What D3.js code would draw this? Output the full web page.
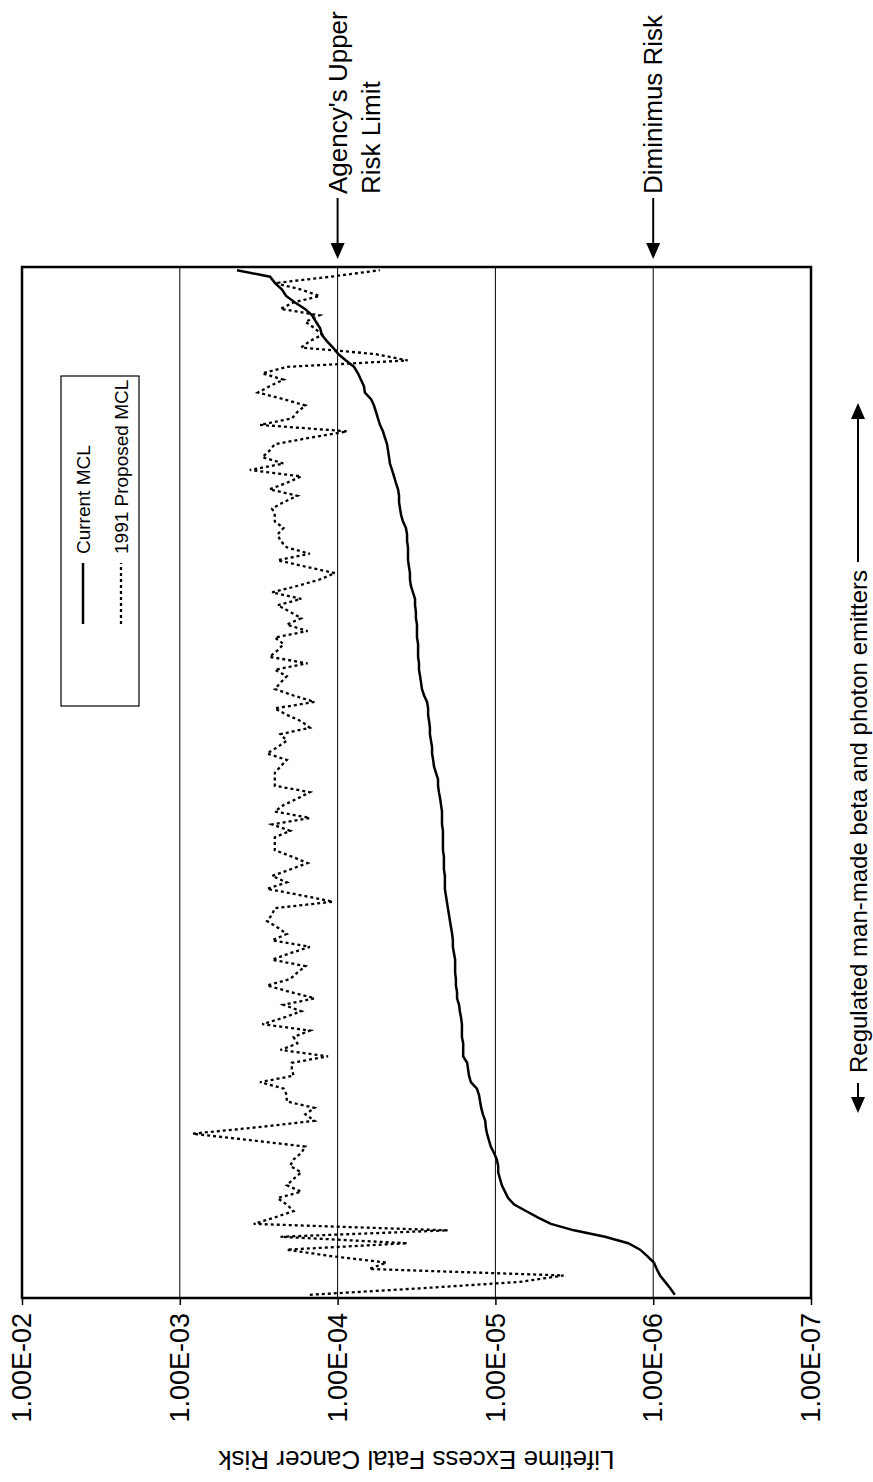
<!DOCTYPE html>
<html>
<head>
  <meta charset="utf-8" />
  <title>Lifetime Excess Fatal Cancer Risk</title>
  <style>
    body { margin:0; background:#fff; }
    text { font-family:"Liberation Sans", Arial, sans-serif; fill:#000; }
    .grid { stroke:#000; stroke-width:1; }
    .frame { fill:none; stroke:#000; stroke-width:2.5; }
    .current { fill:none; stroke:#000; stroke-width:2.5; }
    .proposed { fill:none; stroke:#000; stroke-width:2.3; stroke-dasharray:3,3; }
  </style>
</head>
<body>
<div id="chart"></div>
<script src="https://cdnjs.cloudflare.com/ajax/libs/d3/7.8.5/d3.min.js"></script>
<script>
// values, from the left end of the category axis (bottom of the page)
var currentMCL = [
  7.3e-7, 7.8e-7, 8.4e-7, 9.05e-7, 9.5e-7, 9.9e-7, 1.09e-6, 1.21e-6, 1.44e-6, 2.02e-6,
  3.18e-6, 4.45e-6, 5.4e-6, 6.4e-6, 7.6e-6, 8.3e-6, 8.7e-6, 9.1e-6, 9.35e-6, 9.6e-6,
  9.6e-6, 9.8e-6, 1.02e-5, 1.07e-5, 1.10e-5, 1.13e-5, 1.15e-5, 1.16e-5, 1.20e-5, 1.23e-5,
  1.25e-5, 1.27e-5, 1.31e-5, 1.43e-5, 1.47e-5, 1.49e-5, 1.51e-5, 1.60e-5, 1.60e-5, 1.60e-5,
  1.63e-5, 1.63e-5, 1.63e-5, 1.65e-5, 1.68e-5, 1.70e-5, 1.75e-5, 1.75e-5, 1.78e-5, 1.78e-5,
  1.80e-5, 1.80e-5, 1.80e-5, 1.83e-5, 1.86e-5, 1.86e-5, 1.88e-5, 1.91e-5, 1.94e-5, 1.97e-5,
  2.00e-5, 2.03e-5, 2.06e-5, 2.09e-5, 2.09e-5, 2.09e-5, 2.12e-5, 2.12e-5, 2.12e-5, 2.15e-5,
  2.15e-5, 2.15e-5, 2.15e-5, 2.18e-5, 2.18e-5, 2.18e-5, 2.21e-5, 2.24e-5, 2.28e-5, 2.31e-5,
  2.31e-5, 2.38e-5, 2.45e-5, 2.48e-5, 2.52e-5, 2.52e-5, 2.56e-5, 2.60e-5, 2.60e-5, 2.63e-5,
  2.67e-5, 2.67e-5, 2.71e-5, 2.83e-5, 2.92e-5, 2.96e-5, 3.00e-5, 3.05e-5, 3.05e-5, 3.09e-5,
  3.09e-5, 3.09e-5, 3.14e-5, 3.14e-5, 3.14e-5, 3.19e-5, 3.19e-5, 3.23e-5, 3.23e-5, 3.33e-5,
  3.43e-5, 3.48e-5, 3.48e-5, 3.53e-5, 3.58e-5, 3.58e-5, 3.58e-5, 3.63e-5, 3.63e-5, 3.69e-5,
  3.85e-5, 3.96e-5, 4.02e-5, 4.08e-5, 4.08e-5, 4.14e-5, 4.27e-5, 4.39e-5, 4.52e-5, 4.66e-5,
  4.72e-5, 4.79e-5, 4.86e-5, 5.01e-5, 5.16e-5, 5.39e-5, 5.55e-5, 5.71e-5, 5.88e-5, 6.14e-5,
  6.71e-5, 6.81e-5, 7.11e-5, 7.43e-5, 7.87e-5, 8.85e-5, 9.9e-5, 1.07e-4, 1.17e-4, 1.26e-4,
  1.29e-4, 1.37e-4, 1.45e-4, 1.61e-4, 1.86e-4, 2.12e-4, 2.25e-4, 2.49e-4, 2.68e-4, 4.34e-4
];
var proposedMCL = [
  1.5e-4, 3.0e-5, 7.0e-6, 3.7e-6, 6.3e-5, 4.9e-5, 1.1e-4, 2.1e-4, 3.6e-5, 2.3e-4,
  2.0e-5, 3.4e-4, 2.5e-4, 1.9e-4, 2.1e-4, 2.4e-4, 1.7e-4, 2.1e-4, 1.9e-4, 1.7e-4,
  2.0e-4, 1.9e-4, 1.7e-4, 1.6e-4, 3.6e-4, 8.3e-4, 3.2e-4, 1.4e-4, 1.6e-4, 1.4e-4,
  2.1e-4, 2.1e-4, 2.2e-4, 3.1e-4, 1.9e-4, 1.95e-4, 1.95e-4, 1.15e-4, 2.3e-4, 1.8e-4,
  1.9e-4, 1.5e-4, 3.0e-4, 2.2e-4, 1.7e-4, 2.2e-4, 1.4e-4, 2.0e-4, 2.8e-4, 2.0e-4,
  1.8e-4, 1.6e-4, 2.6e-4, 2.0e-4, 1.5e-4, 2.6e-4, 2.1e-4, 2.4e-4, 2.8e-4, 2.6e-4,
  2.5e-4, 1.07e-4, 1.7e-4, 2.8e-4, 2.1e-4, 2.6e-4, 2.0e-4, 1.55e-4, 1.95e-4, 2.5e-4,
  2.5e-4, 2.5e-4, 2.0e-4, 2.6e-4, 1.5e-4, 2.5e-4, 2.2e-4, 1.8e-4, 1.5e-4, 2.5e-4,
  2.5e-4, 2.5e-4, 2.3e-4, 2.1e-4, 2.8e-4, 2.4e-4, 2.1e-4, 2.3e-4, 1.5e-4, 1.7e-4,
  2.1e-4, 2.5e-4, 1.4e-4, 1.9e-4, 2.5e-4, 2.3e-4, 2.1e-4, 2.5e-4, 1.55e-4, 2.7e-4,
  2.4e-4, 2.2e-4, 2.5e-4, 1.55e-4, 2.1e-4, 1.7e-4, 2.0e-4, 2.4e-4, 1.7e-4, 2.6e-4,
  1.8e-4, 1.3e-4, 1.04e-4, 1.6e-4, 2.4e-4, 1.5e-4, 2.1e-4, 2.3e-4, 2.4e-4, 2.2e-4,
  2.5e-4, 2.5e-4, 2.6e-4, 2.2e-4, 1.8e-4, 2.7e-4, 2.1e-4, 1.7e-4, 3.6e-4, 2.2e-4,
  3.0e-4, 2.7e-4, 2.5e-4, 1.5e-4, 8.7e-5, 3.1e-4, 1.95e-4, 1.8e-4, 1.6e-4, 2.2e-4,
  3.2e-4, 2.7e-4, 2.2e-4, 3.0e-4, 2.1e-4, 3.6e-5, 5.8e-5, 1.7e-4, 1.5e-4, 1.25e-4,
  1.4e-4, 1.6e-4, 1.3e-4, 2.3e-4, 1.9e-4, 1.3e-4, 1.7e-4, 2.5e-4, 1.1e-4, 5.4e-5
];
var tickValues = [1e-2, 1e-3, 1e-4, 1e-5, 1e-6, 1e-7];
var tickLabels = ["1.00E-02", "1.00E-03", "1.00E-04", "1.00E-05", "1.00E-06", "1.00E-07"];
var seriesNames = ["Current MCL", "1991 Proposed MCL"];
var markerValues = [1e-4, 1e-6];
var markerLabels = [["Agency's Upper", "Risk Limit"], ["Diminimus Risk"]];
var valueTitle = "Lifetime Excess Fatal Cancer Risk";
var categoryTitle = "Regulated man-made beta and photon emitters";

(function() {
  // the chart is laid out landscape and then turned a quarter turn to the left
  var W = 1482, H = 873;
  var pLeft = 184, pRight = 1215, pTop = 22, pBottom = 811;

  var svg = d3.select("#chart").append("svg")
    .attr("width", H)
    .attr("height", W);

  var g = svg.append("g")
    .attr("transform", "translate(0," + W + ") rotate(-90)");

  var x = d3.scalePoint()
    .domain(d3.range(currentMCL.length))
    .range([pLeft, pRight])
    .padding(0.5);

  var y = d3.scaleLog()
    .domain([1e-7, 1e-2])
    .range([pBottom, pTop]);

  // gridlines
  g.selectAll(".grid")
    .data(tickValues.slice(1, 5))
    .enter().append("line")
    .attr("class", "grid")
    .attr("x1", pLeft).attr("x2", pRight)
    .attr("y1", function(d) { return y(d); })
    .attr("y2", function(d) { return y(d); });

  // value axis
  var axis = g.append("g")
    .attr("transform", "translate(" + pLeft + ",0)")
    .call(d3.axisLeft(y)
      .tickValues(tickValues)
      .tickFormat(function(d, i) { return tickLabels[i]; })
      .tickSize(7)
      .tickPadding(8));
  axis.select(".domain").remove();
  axis.selectAll("line").attr("stroke", "#000").attr("stroke-width", 1.5);
  axis.selectAll("text")
    .style("font-family", "'Liberation Sans', Arial, sans-serif")
    .style("font-size", "27px")
    .attr("fill", "#000");

  // series
  var line = d3.line()
    .x(function(d, i) { return x(i); })
    .y(function(d) { return y(d); });

  g.append("path").datum(proposedMCL).attr("class", "proposed").attr("d", line);
  g.append("path").datum(currentMCL).attr("class", "current").attr("d", line);

  g.append("rect")
    .attr("class", "frame")
    .attr("x", pLeft).attr("y", pTop)
    .attr("width", pRight - pLeft).attr("height", pBottom - pTop);

  // value title
  g.append("text")
    .attr("transform", "translate(22," + ((pTop + pBottom) / 2) + ") rotate(-90)")
    .attr("text-anchor", "middle")
    .attr("dy", "0.35em")
    .style("font-size", "26px")
    .text(valueTitle);

  // category title with arrows
  var ct = g.append("text")
    .attr("x", 409).attr("y", 867)
    .style("font-size", "24px")
    .text(categoryTitle);
  var ctLen = ct.node().getComputedTextLength();

  function arrow(x0, x1, yy) {
    var dir = x1 > x0 ? 1 : -1;
    g.append("line")
      .attr("x1", x0).attr("x2", x1 - dir * 12)
      .attr("y1", yy).attr("y2", yy)
      .attr("stroke", "#000").attr("stroke-width", 2);
    g.append("path")
      .attr("d", "M" + x1 + "," + yy + "L" + (x1 - dir * 16) + "," + (yy - 7) +
        "L" + (x1 - dir * 16) + "," + (yy + 7) + "Z")
      .attr("fill", "#000");
  }
  arrow(399, 369, 858);
  arrow(409 + ctLen + 8, 1079, 858);

  // risk markers to the right of the plot
  markerValues.forEach(function(v, k) {
    var yy = y(v);
    arrow(1284, pRight + 8, yy);
    markerLabels[k].forEach(function(s, j) {
      g.append("text")
        .attr("x", 1288)
        .attr("y", yy + 9 + j * 33)
        .style("font-size", "26px")
        .text(s);
    });
  });

  // legend
  var lg = g.append("g").attr("transform", "translate(776,61)");
  lg.append("rect")
    .attr("width", 330).attr("height", 78)
    .attr("fill", "#fff").attr("stroke", "#000").attr("stroke-width", 1.2);
  seriesNames.forEach(function(name, k) {
    var yy = 22 + k * 38;
    lg.append("line")
      .attr("class", k === 0 ? "current" : "proposed")
      .attr("x1", 82).attr("x2", 143)
      .attr("y1", yy).attr("y2", yy);
    lg.append("text")
      .attr("x", 152).attr("y", yy)
      .attr("dy", "0.35em")
      .style("font-size", "19px")
      .text(name);
  });
})();
</script>
</body>
</html>
